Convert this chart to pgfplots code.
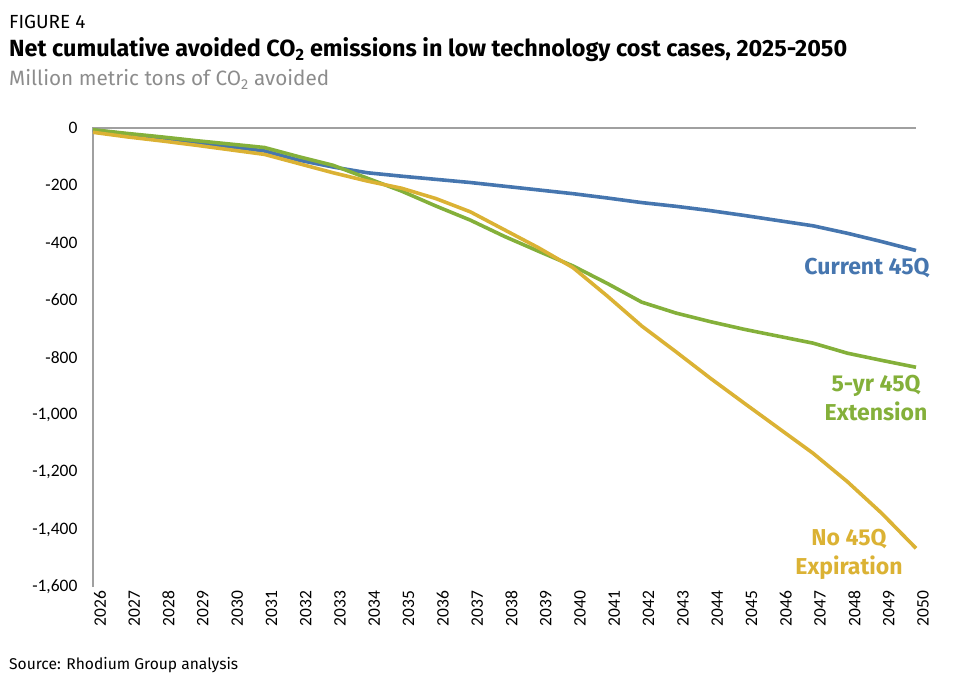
\documentclass[border=0pt]{standalone}
\usepackage{fontspec}
\setmainfont{Fira Sans}
\newfontfamily\carlito{Carlito}
\usepackage{pgfplots}
\pgfplotsset{compat=1.18}
\definecolor{cblue}{RGB}{70,118,175}
\definecolor{cgreen}{RGB}{132,176,58}
\definecolor{cyellow}{RGB}{219,178,52}
\definecolor{axgray}{RGB}{160,160,160}
\definecolor{subgray}{RGB}{140,140,140}
\begin{document}
\begin{tikzpicture}
\useasboundingbox (0pt,0pt) rectangle (970pt,-690pt);
\begin{axis}[
  at={(93pt,-587pt)}, anchor=south west,
  scale only axis, width=823pt, height=459pt,
  xmin=2026, xmax=2050, ymin=-1600, ymax=0,
  axis line style={draw=none},
  major tick length=0pt,
  xtick={2026,...,2050},
  ytick={-1600,-1400,...,0},
  /pgf/number format/assume math mode=true,
  /pgf/number format/1000 sep={,},
  xticklabel style={/pgf/number format/1000 sep={}, rotate=90, anchor=east, font=\carlito\fontsize{17.5}{20}\selectfont, yshift=-7pt},
  yticklabel style={font=\carlito\fontsize{17.5}{20}\selectfont, xshift=-12pt},
  clip=false,
  every axis plot/.append style={line width=3.6pt, line join=round},
]
\draw[axgray, line width=1.6pt] (axis cs:2026,-1600) -- (axis cs:2026,0) -- (axis cs:2050,0);
% Current 45Q
\addplot[cblue, no markers] coordinates {
(2026,-7) (2027,-21) (2028,-36) (2029,-50) (2030,-65) (2031,-80)
(2032,-112) (2033,-136) (2034,-156) (2035,-168) (2036,-179) (2037,-190)
(2038,-203) (2039,-216) (2040,-229) (2041,-244) (2042,-260) (2043,-273)
(2044,-288) (2045,-305) (2046,-323) (2047,-341) (2048,-367) (2049,-396) (2050,-427)
};
% 5-yr 45Q Extension
\addplot[cgreen, no markers] coordinates {
(2026,-6) (2027,-19) (2028,-31) (2029,-44) (2030,-56) (2031,-68)
(2032,-100) (2033,-130) (2034,-175) (2035,-220) (2036,-272) (2037,-321)
(2038,-378) (2039,-430) (2040,-481) (2041,-542) (2042,-607) (2043,-645)
(2044,-675) (2045,-702) (2046,-726) (2047,-750) (2048,-785) (2049,-810) (2050,-834)
};
% No 45Q Expiration
\addplot[cyellow, no markers] coordinates {
(2026,-15) (2027,-31) (2028,-45) (2029,-60) (2030,-76) (2031,-92)
(2032,-124) (2033,-156) (2034,-185) (2035,-210) (2036,-246) (2037,-292)
(2038,-355) (2039,-418) (2040,-487) (2041,-586) (2042,-690) (2043,-780)
(2044,-872) (2045,-960) (2046,-1047) (2047,-1134) (2048,-1233) (2049,-1343) (2050,-1465)
};
\end{axis}
\node[anchor=base west, inner sep=0] at (9pt,-29pt) {\fontsize{19}{22}\selectfont FIGURE 4};
\node[anchor=base west, inner sep=0] at (9pt,-57pt) {\fontsize{23.4}{26}\selectfont\bfseries Net cumulative avoided CO\textsubscript{2} emissions in low technology cost cases, 2025-2050};
\node[anchor=base west, inner sep=0, text=subgray] at (9pt,-86pt) {\fontsize{20.7}{24}\selectfont Million metric tons of CO\textsubscript{2} avoided};
\node[anchor=base west, inner sep=0] at (9pt,-669pt) {\fontsize{15.6}{19}\selectfont Source: Rhodium Group analysis};
\node[text=cblue, font=\fontsize{23}{28}\selectfont\bfseries, align=center] at (867pt,-268pt) {Current 45Q};
\node[text=cgreen, font=\fontsize{23}{29}\selectfont\bfseries, align=center] at (876pt,-398pt) {5-yr 45Q\\Extension};
\node[text=cyellow, font=\fontsize{23}{29}\selectfont\bfseries, align=center] at (849pt,-554pt) {No 45Q\\Expiration};
\end{tikzpicture}
\end{document}
